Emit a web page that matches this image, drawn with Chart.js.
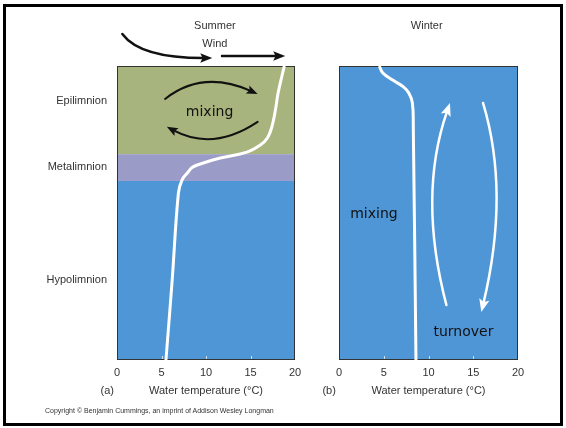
<!DOCTYPE html>
<html>
<head>
<meta charset="utf-8">
<script src="https://cdn.jsdelivr.net/npm/chart.js@4"></script>
<style>
    html, body { margin: 0; padding: 0; background: #fff; }
    body { width: 566px; height: 428px; position: relative; overflow: hidden; font-family: "Liberation Sans", Arial, sans-serif; }
    .frame { position: absolute; left: 3px; top: 4px; width: 554px; height: 416px; border: 3px solid #000; }
    canvas { position: absolute; left: 0; top: 0; }
    .copy { position: absolute; left: 45px; top: 407px; font-size: 7px; color: #333; white-space: nowrap; }
</style>
</head>
<body>
<div class="frame"></div>
<canvas id="summer" width="566" height="428"></canvas>
<canvas id="winter" width="566" height="428"></canvas>
<div class="copy">Copyright © Benjamin Cummings, an imprint of Addison Wesley Longman</div>
<script>
// Lake temperature profiles, summer stratification vs winter turnover
// depth is an arbitrary 0 (surface) .. 100 (bottom) scale

const tempTicks = [0, 5, 10, 15, 20];

// summer profile (°C vs depth)
const summerTemp  = [18.8, 18.1, 17.8, 17.4, 16.9, 16.1, 14.6, 11.6, 9.7, 8.5, 7.9, 7.3, 6.9, 6.2, 5.5];
const summerDepth = [0, 9.2, 15.0, 20.7, 24.5, 26.9, 29.3, 31.3, 33.0, 34.4, 36.4, 38.8, 43.2, 72.8, 100];

// winter profile
const winterTemp  = [4.5, 4.9, 6.0, 7.2, 7.8, 8.2, 8.3, 8.6];
const winterDepth = [0, 2.4, 4.8, 7.1, 9.2, 12.6, 20.7, 100];

// thermal layers
const layerNames = ['Epilimnion', 'Metalimnion', 'Hypolimnion'];
const layerTop = [0, 30, 39.1];
const layerBottom = [30, 39.1, 100];
const layerLabelDepth = [11.8, 34.2, 72.8];
const layerColors = ['#a8b47d', '#9b9bc8', '#4f96d7'];

const FONT = '"Liberation Sans", Arial, sans-serif';
const HAND = '"DejaVu Sans", sans-serif';
Chart.defaults.font.family = FONT;

// annotation arrows in (temperature, depth) units: start, control, end
const summerArrows = [
    { from: [0.6, -10.9], ctrl: [2.6, -2.7], to: [10.7, -2.7], color: '#111', width: 2.5, head: 12 },
    { from: [11.8, -3.4], ctrl: [15.3, -3.4], to: [18.9, -3.4], color: '#111', width: 2.5, head: 12 },
    { from: [5.4, 11.2], ctrl: [9.6, 1.2], to: [15.8, 9.5], color: '#111', width: 2, head: 11 },
    { from: [15.8, 19.0], ctrl: [10.8, 29.1], to: [5.6, 20.7], color: '#111', width: 2, head: 11 }
];
const winterArrows = [
    { from: [12.0, 81.3], ctrl: [8.8, 44.2], to: [12.4, 12.6], color: '#fff', width: 2.5, head: 13 },
    { from: [16.1, 12.6], ctrl: [19.1, 43], to: [15.9, 83.7], color: '#fff', width: 2.5, head: 13 }
];

const summerNotes = [
    { text: 'Summer', at: [11.0, -13.6], font: '11px ' + FONT, color: '#333' },
    { text: 'Wind', at: [11.0, -7.5], font: '11px ' + FONT, color: '#333' },
    { text: '(a)', at: [-1.1, 110.5], font: '11px ' + FONT, color: '#333' },
    { text: 'mixing', at: [10.4, 15.6], font: '14px ' + HAND, color: '#111' }
];
const winterNotes = [
    { text: 'Winter', at: [9.8, -13.6], font: '11px ' + FONT, color: '#333' },
    { text: '(b)', at: [-1.1, 110.5], font: '11px ' + FONT, color: '#333' },
    { text: 'mixing', at: [3.9, 50.3], font: '14px ' + HAND, color: '#111' },
    { text: 'turnover', at: [13.9, 90.5], font: '14px ' + HAND, color: '#111' }
];

function drawArrow(ctx, a, xs, ys) {
    const x0 = xs.getPixelForValue(a.from[0]), y0 = ys.getPixelForValue(a.from[1]);
    const cx = xs.getPixelForValue(a.ctrl[0]), cy = ys.getPixelForValue(a.ctrl[1]);
    const x2 = xs.getPixelForValue(a.to[0]), y2 = ys.getPixelForValue(a.to[1]);
    const ang = Math.atan2(y2 - cy, x2 - cx);
    const ux = Math.cos(ang), uy = Math.sin(ang);
    const h = a.head, w = h * 0.4;
    ctx.strokeStyle = a.color;
    ctx.fillStyle = a.color;
    ctx.lineWidth = a.width;
    ctx.lineCap = 'round';
    ctx.beginPath();
    ctx.moveTo(x0, y0);
    ctx.quadraticCurveTo(cx, cy, x2 - ux * h * 0.7, y2 - uy * h * 0.7);
    ctx.stroke();
    ctx.beginPath();
    ctx.moveTo(x2, y2);
    ctx.lineTo(x2 - ux * h - uy * w, y2 - uy * h + ux * w);
    ctx.lineTo(x2 - ux * h * 0.8, y2 - uy * h * 0.8);
    ctx.lineTo(x2 - ux * h + uy * w, y2 - uy * h - ux * w);
    ctx.closePath();
    ctx.fill();
}

function lakePlugin(layers, arrows, notes) {
    return {
        id: 'lake',
        beforeDatasetsDraw(chart) {
            const ctx = chart.ctx, a = chart.chartArea;
            const xs = chart.scales.x, ys = chart.scales.y;
            ctx.save();
            layers.forEach(function (l) {
                const t = ys.getPixelForValue(l.top), b = ys.getPixelForValue(l.bottom);
                ctx.fillStyle = l.color;
                ctx.fillRect(a.left, t, a.right - a.left, b - t);
            });
            // faint tick marks inside the bottom edge
            ctx.strokeStyle = 'rgba(255,255,255,0.7)';
            ctx.lineWidth = 1;
            tempTicks.slice(1, -1).forEach(function (v) {
                const px = Math.round(xs.getPixelForValue(v)) + 0.5;
                ctx.beginPath();
                ctx.moveTo(px, a.bottom);
                ctx.lineTo(px, a.bottom - 4);
                ctx.stroke();
            });
            ctx.strokeStyle = '#333';
            ctx.strokeRect(a.left + 0.5, a.top + 0.5, a.right - a.left - 1, a.bottom - a.top - 1);
            ctx.restore();
        },
        afterDatasetsDraw(chart) {
            const ctx = chart.ctx;
            const xs = chart.scales.x, ys = chart.scales.y;
            ctx.save();
            arrows.forEach(function (ar) { drawArrow(ctx, ar, xs, ys); });
            ctx.textAlign = 'center';
            ctx.textBaseline = 'middle';
            notes.forEach(function (n) {
                ctx.font = n.font;
                ctx.fillStyle = n.color;
                ctx.fillText(n.text, xs.getPixelForValue(n.at[0]), ys.getPixelForValue(n.at[1]));
            });
            ctx.restore();
        }
    };
}

function xAxis() {
    return {
        type: 'linear',
        min: 0,
        max: 20,
        afterBuildTicks: function (s) { s.ticks = tempTicks.map(function (v) { return { value: v }; }); },
        ticks: { padding: 6, color: '#333', font: { size: 11 } },
        grid: { display: false, drawTicks: false },
        border: { display: false },
        title: {
            display: true,
            text: 'Water temperature (°C)',
            color: '#333',
            font: { size: 11 },
            padding: { top: 0, bottom: 30 }
        },
        afterFit: function (s) { s.height = 68; }
    };
}

function profile(temps, depths) {
    return temps.map(function (t, i) { return { x: t, y: depths[i] }; });
}

const summerLayers = layerNames.map(function (n, i) {
    return { top: layerTop[i], bottom: layerBottom[i], color: layerColors[i] };
});

new Chart(document.getElementById('summer'), {
    type: 'scatter',
    data: {
        datasets: [{
            data: profile(summerTemp, summerDepth),
            showLine: true,
            borderColor: '#fff',
            borderWidth: 3,
            pointRadius: 0,
            tension: 0.4
        }]
    },
    options: {
        responsive: false,
        animation: false,
        layout: { padding: { left: 0, top: 66, right: 271, bottom: 0 } },
        plugins: { legend: { display: false }, tooltip: { enabled: false } },
        scales: {
            x: xAxis(),
            y: {
                type: 'linear',
                reverse: true,
                min: 0,
                max: 100,
                grid: { display: false, drawTicks: false },
                border: { display: false },
                afterFit: function (s) { s.width = 117; },
                afterBuildTicks: function (s) {
                    s.ticks = layerLabelDepth.map(function (v) { return { value: v }; });
                },
                ticks: {
                    padding: 10,
                    color: '#333',
                    font: { size: 11 },
                    autoSkip: false,
                    callback: function (v, i) { return layerNames[i]; }
                }
            }
        }
    },
    plugins: [lakePlugin(summerLayers, summerArrows, summerNotes)]
});

new Chart(document.getElementById('winter'), {
    type: 'scatter',
    data: {
        datasets: [{
            data: profile(winterTemp, winterDepth),
            showLine: true,
            borderColor: '#fff',
            borderWidth: 3,
            pointRadius: 0,
            tension: 0.4
        }]
    },
    options: {
        responsive: false,
        animation: false,
        layout: { padding: { left: 339, top: 66, right: 48, bottom: 0 } },
        plugins: { legend: { display: false }, tooltip: { enabled: false } },
        scales: {
            x: xAxis(),
            y: { type: 'linear', reverse: true, min: 0, max: 100, display: false }
        }
    },
    plugins: [lakePlugin([{ top: 0, bottom: 100, color: layerColors[2] }], winterArrows, winterNotes)]
});
</script>
</body>
</html>
